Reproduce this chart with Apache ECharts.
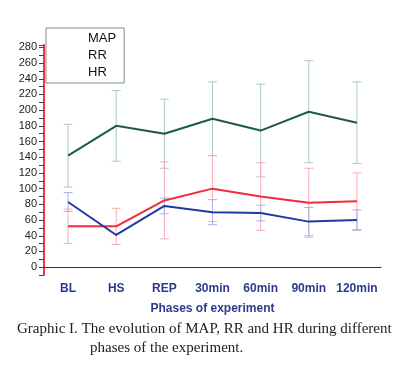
<!DOCTYPE html>
<html><head><meta charset="utf-8">
<script src="https://cdn.jsdelivr.net/npm/echarts@6/dist/echarts.min.js"></script>
<style>html,body{margin:0;padding:0;background:#fff}#c{width:409px;height:372px}</style>
</head><body><div id="c"></div>
<script>
var categories = ['BL','HS','REP','30min','60min','90min','120min'];
var seriesNames = ['MAP','RR','HR'];
var mapMean = [83, 41, 78, 70, 69, 58, 60];
var mapSd   = [12, null, 10, 16, 10, 18, 13];
var rrMean  = [52, 52, 85, 100, 90, 82, 84];
var rrSd    = [22, 23, 49, 42, 43, 44, 36];
var hrMean  = [142, 180, 170, 189, 174, 198, 184];
var hrSd    = [40, 45, 44, 47, 59, 65, 52];
var yLabelStep = 20;
var captionLines = ['Graphic I. The evolution of MAP, RR and HR during different','phases of the experiment.'];

var colors = {MAP:'#1c3aa6', RR:'#f22a3c', HR:'#1e5a4a'};
var errColors = {MAP:'#aab1e2', RR:'#f6adb4', HR:'#abcac7'};

function errData(mean, sd){
  var out = [];
  for (var i=0;i<mean.length;i++){ if (sd[i]!=null) out.push([i, mean[i]-sd[i], mean[i]+sd[i]]); }
  return out;
}
function errSeries(name, mean, sd){
  return {
    type:'custom', name: name+' SD', silent:true, z:1,
    data: errData(mean, sd),
    renderItem: function(params, api){
      var x = api.value(0);
      var lo = api.coord([x, api.value(1)]);
      var hi = api.coord([x, api.value(2)]);
      var w = 4.5;
      var st = {stroke: errColors[name], lineWidth:1};
      return {type:'group', children:[
        {type:'line', shape:{x1:lo[0],y1:lo[1],x2:hi[0],y2:hi[1]}, style:st},
        {type:'line', shape:{x1:lo[0]-w,y1:lo[1],x2:lo[0]+w,y2:lo[1]}, style:st},
        {type:'line', shape:{x1:hi[0]-w,y1:hi[1],x2:hi[0]+w,y2:hi[1]}, style:st}
      ]};
    }
  };
}
function lineSeries(name, mean){
  return {type:'line', name:name, data:mean, symbol:'none', z:3,
    lineStyle:{color:colors[name], width:2}, itemStyle:{color:colors[name]}};
}

var chart = echarts.init(document.getElementById('c'), null, {renderer:'canvas'});
chart.setOption({
  animation:false,
  backgroundColor:'#fff',
  grid:{left:44, right:28, top:45, bottom:97},
  legend:{
    data:seriesNames, orient:'vertical', left:46, top:28,
    icon:'rect', itemWidth:22, itemHeight:12, itemGap:4,
    itemStyle:{opacity:0}, lineStyle:{opacity:0},
    padding:[4,8,4,15], borderColor:'#8a8a8a', borderWidth:1,
    textStyle:{fontFamily:'Liberation Sans, Arial', fontSize:13, color:'#111'}
  },
  xAxis:[{
    type:'category', data:categories, boundaryGap:true,
    axisLine:{lineStyle:{color:'#333', width:1}},
    axisTick:{alignWithLabel:true, length:4, interval:0, lineStyle:{color:'#333'}},
    axisLabel:{interval:0, margin:8, fontFamily:'Liberation Sans, Arial', fontWeight:'bold', fontSize:12, color:'#2a3b8f'},
    name:'Phases of experiment', nameLocation:'middle', nameGap:28,
    nameTextStyle:{fontFamily:'Liberation Sans, Arial', fontWeight:'bold', fontSize:12, color:'#2a3b8f'}
  },{
    type:'category', data:categories, boundaryGap:true, position:'bottom',
    axisLine:{show:false},
    axisTick:{alignWithLabel:false, length:2, interval:0, lineStyle:{color:'#333'}},
    axisLabel:{show:false}
  }],
  yAxis:{
    type:'value', min:-10, max:283, interval:10,
    splitLine:{show:false},
    axisLine:{show:true, lineStyle:{color:'#f0363e', width:2}},
    axisTick:{show:true, length:5, lineStyle:{color:'#444'}},
    axisLabel:{margin:7, fontFamily:'Liberation Sans, Arial', fontSize:11, color:'#222',
      formatter:function(v){ return (v>=0 && v % yLabelStep === 0) ? String(v) : ''; }}
  },
  series:[
    errSeries('HR', hrMean, hrSd),
    errSeries('RR', rrMean, rrSd),
    errSeries('MAP', mapMean, mapSd),
    lineSeries('HR', hrMean),
    lineSeries('RR', rrMean),
    lineSeries('MAP', mapMean)
  ],
  graphic:[
    {type:'text', left:17, top:322, style:{text:captionLines[0], font:'15px "Liberation Serif", "Times New Roman", serif', fill:'#222'}},
    {type:'text', left:90, top:341, style:{text:captionLines[1], font:'15px "Liberation Serif", "Times New Roman", serif', fill:'#222'}}
  ]
});
</script></body></html>
